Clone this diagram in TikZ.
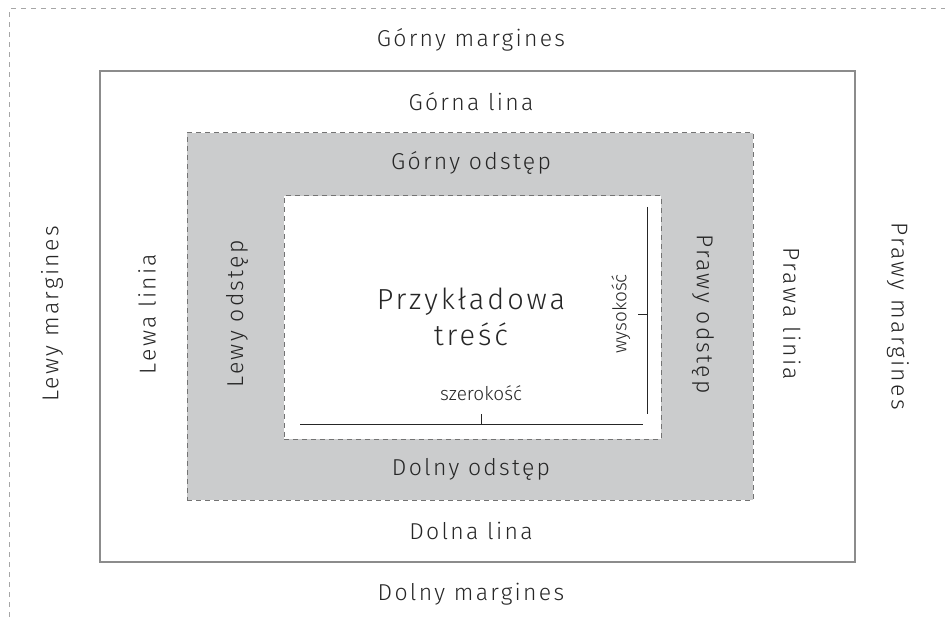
\documentclass[tikz,border=0pt]{standalone}
\usepackage{fontspec}
\setmainfont{Fira Sans Light}[LetterSpace=10]
\newfontfamily\plainfont{Fira Sans Light}
\begin{document}
\begin{tikzpicture}[x=1pt,y=-1pt,
  lbl/.style={text=black!85, font=\fontsize{23}{27}\selectfont, inner sep=0pt},
  small/.style={text=black!85, font=\plainfont\fontsize{19}{22}\selectfont, inner sep=0pt},
  dim/.style={black!85, line width=0.9pt}]
\useasboundingbox (0,0) rectangle (945,617);
\definecolor{boxgray}{HTML}{CBCCCD}
% outer margin line
\coordinate (ol) at (9,617);
\coordinate (oc) at (9,9);
\coordinate (or) at (945,9);
\draw[black!35, line width=1pt, dash pattern=on 5pt off 5pt] (ol) -- (oc) -- (or);
% border box
\node[draw=black!45, line width=1.2pt, minimum width=755pt, minimum height=491pt, inner sep=0pt] (border) at (477.5,316.5) {};
% padding box
\node[fill=boxgray, draw=black!55, line width=1pt, dash pattern=on 5pt off 4pt, minimum width=566pt, minimum height=367pt, inner sep=0pt] (pad) at (470,316.5) {};
% content box
\node[fill=white, draw=black!55, line width=1pt, dash pattern=on 5pt off 4pt, minimum width=377pt, minimum height=243pt, inner sep=0pt] (content) at (472.5,317.5) {};
% labels
\node[lbl] (gm) at (471,40) {Górny margines};
\node[lbl] (gl) at (471,102) {Górna lina};
\node[lbl] (go) at (471,163) {Górny odstęp};
\node[lbl] (do) at (471,469) {Dolny odstęp};
\node[lbl] (dl) at (471,531) {Dolna lina};
\node[lbl] (dm) at (471,594) {Dolny margines};
\node[lbl, rotate=90] (lm) at (52,314) {Lewy margines};
\node[lbl, rotate=90] (ll) at (147,314) {Lewa linia};
\node[lbl, rotate=90] (lo) at (237,314) {Lewy odstęp};
\node[lbl, rotate=-90] (po) at (703,314) {Prawy odstęp};
\node[lbl, rotate=-90] (pl) at (792,314) {Prawa linia};
\node[lbl, rotate=-90] (pm) at (898,316) {Prawy margines};
\node[lbl, font=\fontsize{29}{36}\selectfont, align=center] (txt) at (471,317) {Przykładowa\\treść};
% dimension lines
\coordinate (h1) at (300,424);
\coordinate (h2) at (643,424);
\coordinate (hm) at (481,424);
\coordinate (ht) at (481,414);
\draw[dim] (h1) -- (h2);
\draw[dim] (hm) -- (ht);
\node[small] (sz) at (481,393) {szerokość};
\coordinate (v1) at (647,207);
\coordinate (v2) at (647,414);
\coordinate (vm) at (647,314);
\coordinate (vt) at (638,314);
\draw[dim] (v1) -- (v2);
\draw[dim] (vm) -- (vt);
\node[small, rotate=90] (wy) at (621,314) {wysokość};
\end{tikzpicture}
\end{document}
